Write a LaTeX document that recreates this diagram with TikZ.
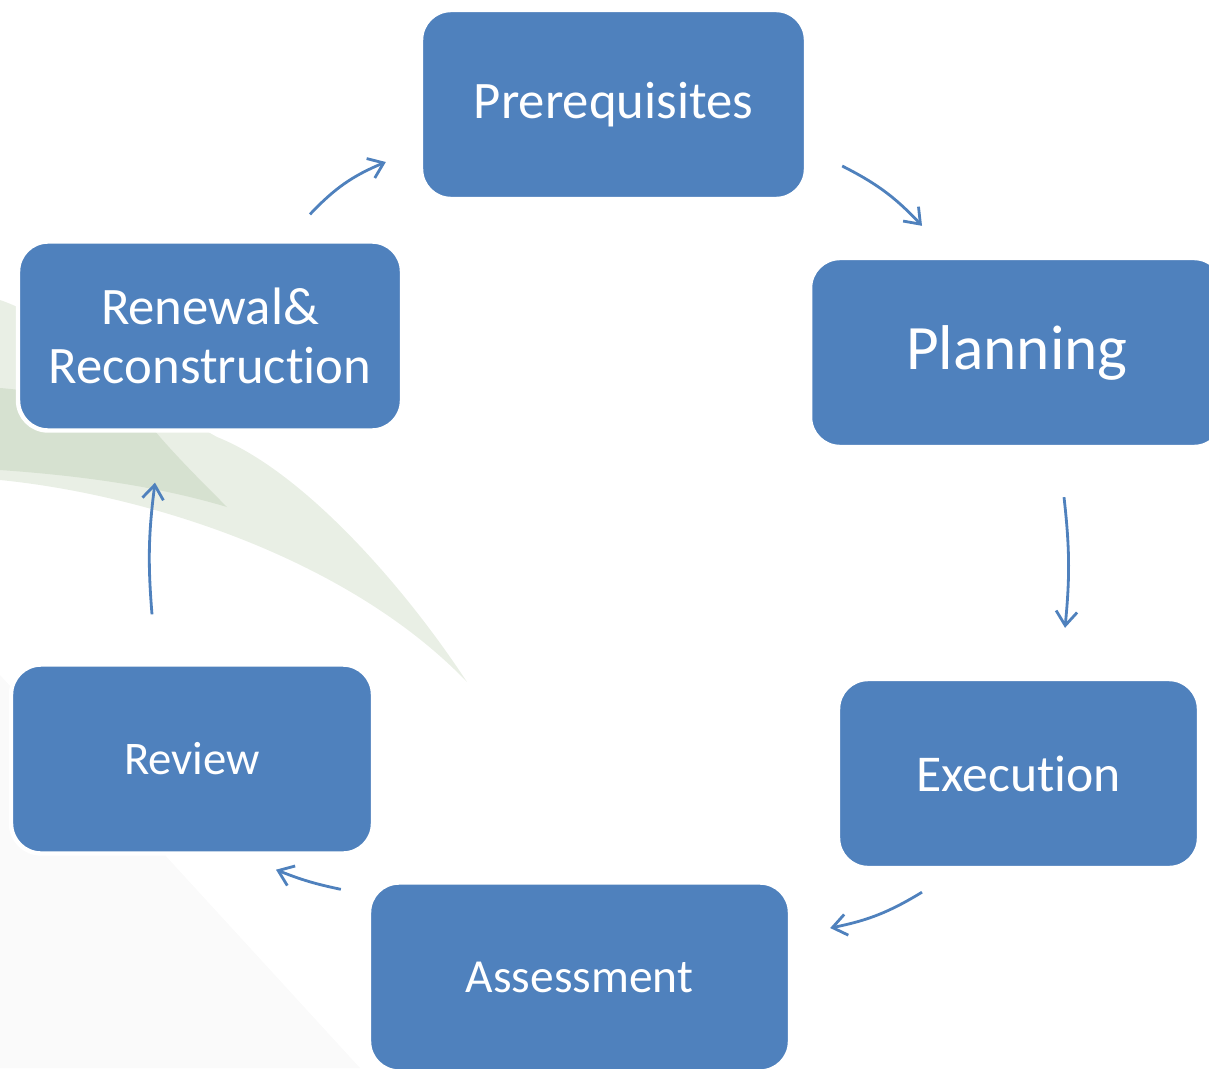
\documentclass[tikz,border=0pt]{standalone}
\usepackage{fontspec}
\setmainfont{Carlito}[RawFeature={-liga;-clig;-dlig;-calt}]
\usetikzlibrary{arrows.meta,calc}
\definecolor{stageblue}{HTML}{4F81BD}
\definecolor{leafdark}{HTML}{D6E1D0}
\definecolor{leaflight}{HTML}{E9EFE5}
\definecolor{paleground}{HTML}{FAFAFA}

\begin{document}
\begin{tikzpicture}[x=0.02cm, y=-0.02cm,
  box/.style = {draw=white, line width=2.5pt, fill=stageblue, rounded corners=0.6cm,
    text=white, align=center, minimum height=3.78cm, inner sep=0pt},
  flow/.style = {draw=stageblue, line width=1.6pt, -{Straight Barb[length=8pt,width=12pt]}}]
\useasboundingbox (0,0) rectangle (1209,1068);

% leaf and pale ground behind the boxes
\fill[paleground] (0,675) -- (360,1068) -- (0,1068) -- cycle;
\fill[leaflight] (0,300) -- (0,480) .. controls (150,495) and (350,560) .. (467,682)
  .. controls (400,580) and (300,470) .. (217,437)
  .. controls (150,400) and (60,320) .. (0,300) -- cycle;
\fill[leafdark] (0,388) -- (0,470) .. controls (100,477) and (170,490) .. (227,507)
  .. controls (200,480) and (170,450) .. (150,425)
  .. controls (100,405) and (50,392) .. (0,388) -- cycle;

\node[box, minimum width=7.7cm, font=\fontsize{30}{36}\selectfont] (pre) at (613.5,104.5) {Prerequisites};
\node[box, minimum width=8.28cm, font=\fontsize{36}{43}\selectfont] (pla) at (1017,352.5) {Planning};
\node[box, minimum width=7.22cm, font=\fontsize{29.4}{35}\selectfont] (exe) at (1018.5,773.5) {Execution};
\node[box, minimum width=8.42cm, font=\fontsize{27}{32}\selectfont] (ass) at (579.5,977) {Assessment};
\node[box, minimum width=7.24cm, font=\fontsize{26.6}{32}\selectfont] (rev) at (192,759) {Review};
\node[box, minimum width=7.68cm, font=\fontsize{30}{34}\selectfont] (ren) at (210,336) {Renewal\&\\Reconstruction};

% the cycle
\draw[flow] ($(ren.north)+(100,-25)$) to[bend left=12] ($(pre.west)+(-33,57.5)$);
\draw[flow] ($(pre.east)+(34,61.5)$) to[bend left=10] ($(pla.north)+(-95,-30)$);
\draw[flow] ($(pla.south)+(47,48)$) to[bend left=6] ($(exe.north)+(46.5,-49)$);
\draw[flow] ($(exe.south)+(-96.5,22)$) to[bend left=10] ($(ass.east)+(38,-49)$);
\draw[flow] ($(ass.north west)+(-26,9)$) to[bend left=5] ($(rev.south)+(84,14)$);
\draw[flow] ($(rev.north)+(-40,-48)$) to[bend left=6] ($(ren.south)+(-55,50)$);
\end{tikzpicture}
\end{document}
